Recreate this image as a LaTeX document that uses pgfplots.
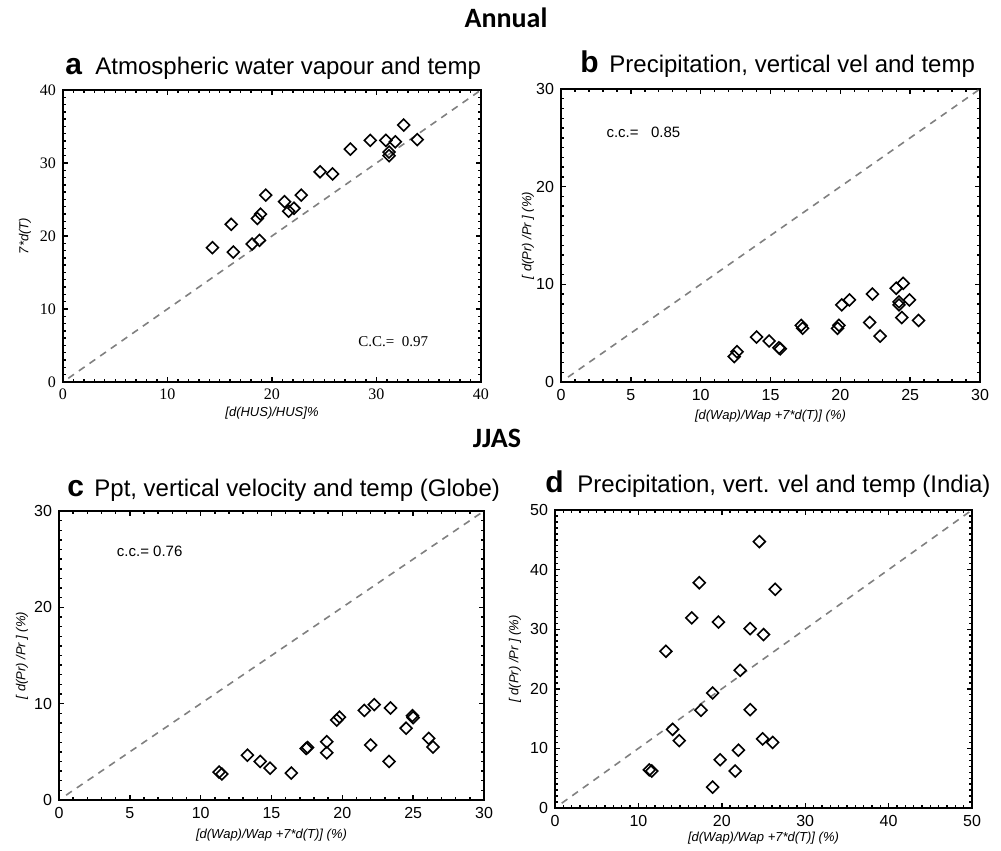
\documentclass[border=0pt]{standalone}
\usepackage{fontspec}
\setmainfont{Liberation Sans}
\newfontfamily\seriffont{Liberation Serif}
\newfontfamily\headfont{Carlito}
\usepackage{pgfplots}
\pgfplotsset{compat=1.18}

\pgfplotsset{
  panel/.style={
    scale only axis,
    tick align=inside,
    major tick length=2.6pt,
    minor tick length=1.4pt,
    axis line style={line width=0.9pt},
    every tick/.style={black, line width=0.7pt},
    /pgf/number format/assume math mode=true,
    tick label style={font=\fontsize{8}{9}\selectfont},
    label style={font=\fontsize{6.5}{7.5}\selectfont\itshape},
    clip=false,
  },
  pts/.style={only marks, mark=square, mark size=2.1pt, mark options={rotate=45, line width=0.8pt, black, fill=none}},
  diag/.style={gray, dashed, line width=0.8pt, dash pattern=on 3.5pt off 3pt},
}

\begin{document}
\begin{tikzpicture}
\useasboundingbox (0,0) rectangle (500.5pt,425.5pt);

\node[font=\headfont\bfseries\fontsize{14}{14}\selectfont, inner sep=0] at (253pt,416.5pt) {Annual};
\node[font=\headfont\bfseries\fontsize{14}{14}\selectfont, inner sep=0] at (248.5pt,206.5pt) {JJAS};

\node[anchor=base west, inner sep=0, font=\bfseries\fontsize{15}{15}\selectfont] at (32.5pt,388pt) {a};
\node[anchor=base west, inner sep=0, font=\fontsize{12}{12}\selectfont] at (47.5pt,388pt) {Atmospheric water vapour and temp};
\node[anchor=base west, inner sep=0, font=\bfseries\fontsize{15}{15}\selectfont] at (290pt,389pt) {b};
\node[anchor=base west, inner sep=0, font=\fontsize{12}{12}\selectfont] at (304.5pt,389pt) {Precipitation, vertical vel and temp};
\node[anchor=base west, inner sep=0, font=\bfseries\fontsize{15}{15}\selectfont] at (33.5pt,177pt) {c};
\node[anchor=base west, inner sep=0, font=\fontsize{12}{12}\selectfont] at (47pt,177pt) {Ppt, vertical velocity and temp (Globe)};
\node[anchor=base west, inner sep=0, font=\bfseries\fontsize{15}{15}\selectfont] at (272.5pt,179pt) {d};
\node[anchor=base west, inner sep=0, font=\fontsize{12}{12}\selectfont] at (288.5pt,179pt) {Precipitation, vert. vel and temp (India)};

% Panel a
\begin{axis}[panel, at={(31.5pt,234.5pt)}, anchor=south west, width=209pt, height=146pt,
  xmin=0, xmax=40, ymin=0, ymax=40, xtick={0,10,20,30,40}, ytick={0,10,20,30,40},
  minor x tick num=9, minor y tick num=9,
  tick label style={font=\seriffont\fontsize{8}{9}\selectfont},
  xlabel={[d(HUS)/HUS]\%}, ylabel={7*d(T)},
  xlabel style={at={(axis description cs:0.5,-0.106)}, anchor=center},
  ylabel style={at={(axis description cs:-0.091,0.5)}, anchor=center},
]
\addplot[diag] coordinates {(0.5,0.5) (40,40)};
\addplot[pts] coordinates {
(14.3,18.4) (16.1,21.6) (16.3,17.8) (18.1,18.9) (18.8,19.4) (18.6,22.4)
(18.9,23.0) (19.4,25.6) (21.2,24.7) (21.6,23.4) (22.1,23.8) (22.8,25.6)
(24.6,28.8) (25.8,28.5) (27.5,31.9) (29.4,33.1) (30.9,33.1) (31.8,32.9)
(31.2,31.5) (31.2,31.0) (32.6,35.2) (33.9,33.2)
};
\node[font=\seriffont\fontsize{7.5}{8}\selectfont] at (axis cs:31.6,5.5) {C.C.=\ \ 0.97};
\end{axis}

% Panel b
\begin{axis}[panel, at={(280.5pt,234.5pt)}, anchor=south west, width=209.5pt, height=146.5pt,
  xmin=0, xmax=30, ymin=0, ymax=30, xtick={0,5,10,15,20,25,30}, ytick={0,10,20,30},
  minor x tick num=4, minor y tick num=9,
  xlabel={[d(Wap)/Wap +7*d(T)] (\%)}, ylabel={[ d(Pr) /Pr ] (\%)},
  xlabel style={at={(axis description cs:0.5,-0.116)}, anchor=center},
  ylabel style={at={(axis description cs:-0.079,0.5)}, anchor=center},
]
\addplot[diag] coordinates {(0.5,0.5) (30,30)};
\addplot[pts] coordinates {
(12.4,2.6) (12.6,3.1) (14.0,4.6) (14.9,4.2) (15.6,3.5) (15.7,3.4)
(17.2,5.8) (17.3,5.5) (19.8,5.5) (19.9,5.8) (20.1,7.9) (20.65,8.4)
(22.3,9.0) (22.1,6.1) (22.85,4.7) (24.0,9.6) (24.5,10.1) (24.2,8.2)
(24.2,7.9) (24.95,8.4) (24.4,6.6) (25.6,6.3)
};
\node[font=\fontsize{7.5}{8}\selectfont] at (axis cs:5.9,25.6) {c.c.=\ \ \ 0.85};
\end{axis}

% Panel c
\begin{axis}[panel, at={(29.5pt,25.5pt)}, anchor=south west, width=212.5pt, height=144.5pt,
  xmin=0, xmax=30, ymin=0, ymax=30, xtick={0,5,10,15,20,25,30}, ytick={0,10,20,30},
  minor x tick num=4, minor y tick num=9,
  xlabel={[d(Wap)/Wap +7*d(T)] (\%)}, ylabel={[ d(Pr) /Pr ] (\%)},
  xlabel style={at={(axis description cs:0.5,-0.121)}, anchor=center},
  ylabel style={at={(axis description cs:-0.087,0.5)}, anchor=center},
]
\addplot[diag] coordinates {(0.5,0.5) (30,30)};
\addplot[pts] coordinates {
(11.3,2.9) (11.5,2.7) (13.3,4.65) (14.2,4.0) (14.9,3.3) (16.4,2.8)
(17.45,5.35) (17.55,5.45) (18.9,6.05) (18.9,4.9) (19.6,8.3) (19.8,8.6)
(21.55,9.3) (22.25,9.9) (22.0,5.7) (23.4,9.55) (23.3,4.0) (24.5,7.45)
(24.95,8.75) (25.0,8.55) (26.1,6.4) (26.4,5.5)
};
\node[font=\fontsize{7.5}{8}\selectfont] at (axis cs:6.4,25.8) {c.c.= 0.76};
\end{axis}

% Panel d
\begin{axis}[panel, at={(277.5pt,21.5pt)}, anchor=south west, width=208.5pt, height=149pt,
  xmin=0, xmax=50, ymin=0, ymax=50, xtick={0,10,20,30,40,50}, ytick={0,10,20,30,40,50},
  minor x tick num=9, minor y tick num=9,
  xlabel={[d(Wap)/Wap +7*d(T)] (\%)}, ylabel={[ d(Pr) /Pr ] (\%)},
  xlabel style={at={(axis description cs:0.5,-0.10)}, anchor=center},
  ylabel style={at={(axis description cs:-0.096,0.5)}, anchor=center},
]
\addplot[diag] coordinates {(0.8,0.8) (50,50)};
\addplot[pts] coordinates {
(11.3,6.4) (11.6,6.2) (13.3,26.3) (14.1,13.2) (14.9,11.3) (16.4,31.9)
(17.3,37.8) (17.5,16.4) (18.9,19.3) (18.9,3.5) (19.6,31.2) (19.8,8.1)
(21.6,6.2) (22.0,9.7) (22.2,23.1) (23.4,30.1) (23.4,16.5) (24.5,44.7)
(25.0,29.1) (24.9,11.6) (26.1,11.0) (26.4,36.7)
};
\end{axis}
\end{tikzpicture}
\end{document}
